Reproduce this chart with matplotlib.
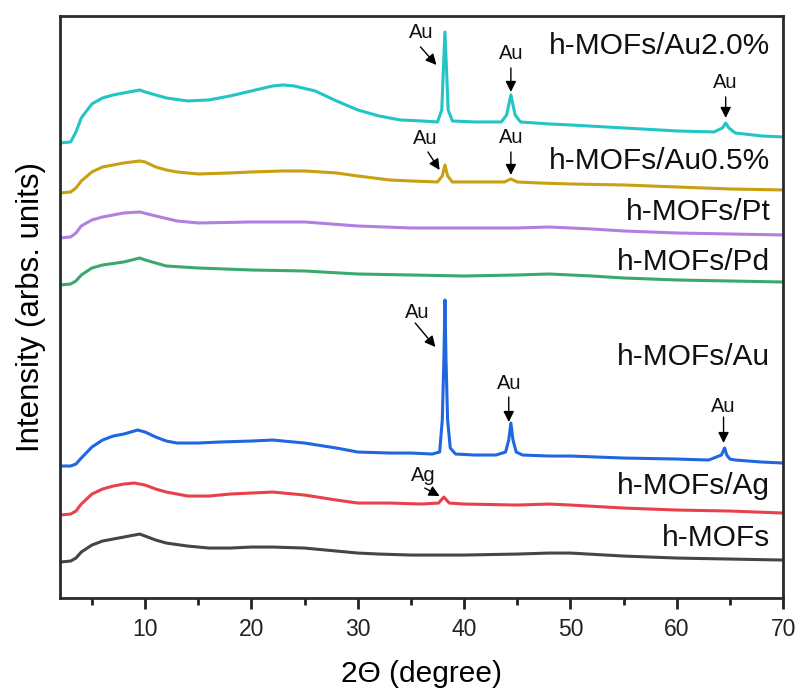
import matplotlib
matplotlib.use("Agg")
import matplotlib.pyplot as plt
from matplotlib.ticker import MultipleLocator, NullLocator

plt.rcParams['font.family'] = ['Liberation Sans', 'DejaVu Sans']

# ---- data (intensity in arbitrary units, vertically offset) ----
x_mof = [2, 3, 3.5, 4, 5, 6, 7, 8, 9, 9.5, 10, 11, 12, 14, 16, 18, 20, 22, 25, 28, 30, 32, 35, 40, 45, 48, 50, 55, 60, 65, 70]
y_mof = [36, 37, 40, 46, 53, 57, 59, 61, 63, 64, 62, 58, 55, 52, 50, 50, 51, 51, 50, 47, 45, 44, 43, 43, 44, 45, 45, 42, 40, 39, 38]

x_ag = [2, 3, 3.5, 4, 5, 6, 7, 8, 9, 10, 11, 12, 14, 16, 18, 20, 22, 25, 28, 30, 33, 36, 37.6, 38.1, 38.6, 40, 45, 48, 50, 55, 60, 65, 70]
y_ag = [83, 84, 87, 94, 104, 109, 112, 114, 115, 113, 109, 106, 102, 102, 104, 105, 106, 103, 98, 95, 95, 94, 95, 101, 95, 94, 93, 94, 93, 90, 88, 87, 85]

x_au = [2, 3, 3.5, 4, 5, 6, 7, 8, 9.3, 10, 11, 12, 13, 15, 17, 20, 22, 25, 28, 30, 33, 35, 37, 37.7, 37.95, 38.1, 38.2, 38.3, 38.45, 38.7, 39.2,
        41, 43, 43.9, 44.2, 44.4, 44.6, 44.9, 45.5, 48, 50, 55, 60, 63, 64.2, 64.5, 64.7, 65.0, 65.5, 68, 70]
y_au = [132, 132, 134, 140, 151, 158, 162, 164, 168, 166, 161, 157, 155, 155, 156, 157, 158, 155, 150, 146, 145, 145, 144, 146, 178, 238, 298, 238, 178, 150, 144,
        143, 143, 146, 158, 175, 158, 146, 143, 142, 142, 140, 139, 138, 143, 150, 143, 139, 138, 136, 135]

x_pd = [2, 3, 3.5, 4, 5, 6, 8, 9.5, 10, 12, 15, 20, 25, 30, 35, 40, 45, 48, 52, 55, 60, 65, 70]
y_pd = [313, 314, 317, 323, 330, 333, 336, 340, 338, 332, 330, 328, 327, 324, 323, 322, 323, 324, 322, 320, 318, 317, 316]

x_pt = [2, 3, 3.5, 4, 5, 6, 8, 9.5, 11, 13, 15, 20, 25, 30, 35, 40, 45, 48, 52, 55, 60, 65, 70]
y_pt = [360, 361, 365, 372, 378, 381, 385, 386, 382, 377, 375, 376, 376, 372, 370, 370, 370, 371, 369, 367, 365, 364, 363]

x_au05 = [2, 3, 3.5, 4, 5, 6, 8, 9.5, 10, 11, 12, 13, 15, 18, 20, 23, 25, 28, 30, 33, 35, 37.5, 37.95, 38.2, 38.45, 38.9,
          41, 43.8, 44.4, 45, 47, 50, 55, 60, 65, 70]
y_au05 = [405, 406, 410, 417, 426, 431, 435, 437, 436, 431, 428, 426, 424, 425, 426, 427, 427, 425, 422, 418, 417, 416, 422, 433, 422, 416,
          416, 416, 419, 416, 415, 414, 413, 411, 409, 408]

x_au20 = [2, 3, 3.5, 4, 5, 6, 7, 8, 9.5, 10, 11, 12, 14, 16, 18, 20, 22, 23, 24, 26, 28, 30, 32, 34, 36, 37.5, 37.9, 38.05, 38.2, 38.35, 38.5, 38.9,
          41, 43.5, 44.0, 44.4, 44.8, 45.3, 48, 50, 55, 60, 63.5, 64.3, 64.6, 64.9, 65.5, 68, 70]
y_au20 = [455, 456, 466, 480, 494, 500, 503, 505, 508, 506, 503, 500, 497, 498, 502, 507, 512, 513, 512, 507, 497, 488, 482, 478, 477, 476, 488, 528, 566, 528, 488, 477,
          476, 476, 483, 503, 483, 476, 474, 473, 470, 467, 466, 470, 475, 470, 465, 462, 461]

series_x = [x_mof, x_ag, x_au, x_pd, x_pt, x_au05, x_au20]
series_y = [y_mof, y_ag, y_au, y_pd, y_pt, y_au05, y_au20]
labels = ['h-MOFs', 'h-MOFs/Ag', 'h-MOFs/Au', 'h-MOFs/Pd', 'h-MOFs/Pt', 'h-MOFs/Au0.5%', 'h-MOFs/Au2.0%']
label_y = [60, 112, 241, 336, 386, 437, 552]
colors = ['#454545', '#e8414b', '#1f66e0', '#3aa96f', '#b07fe0', '#c9a011', '#22c4c4']

# peak annotations: (text, text position, arrow start, arrow end)
peak_text = ['Au', 'Au', 'Au', 'Au', 'Au', 'Au', 'Au', 'Au', 'Ag']
peak_tx = [36.0, 44.4, 64.6, 36.3, 44.4, 35.6, 44.2, 64.4, 36.2]
peak_ty = [565, 544, 515, 459, 460, 286, 215, 192, 123]
peak_ax0 = [35.9, 44.4, 64.6, 36.6, 44.4, 35.4, 44.2, 64.4, 36.3]
peak_ay0 = [551, 530, 501, 446, 446, 275, 201, 181, 110]
peak_ax1 = [37.4, 44.4, 64.6, 37.7, 44.4, 37.3, 44.2, 64.4, 37.7]
peak_ay1 = [533, 506, 480, 428, 423, 251, 176, 155, 102]

fig = plt.figure(figsize=(7.99, 6.93), dpi=100)
ax = fig.add_axes([0.0751, 0.137, 0.905, 0.840])

for xs, ys, c in zip(series_x, series_y, colors):
    ax.plot(xs, ys, color=c, lw=2.2, solid_joinstyle='round')

for lab, ly in zip(labels, label_y):
    ax.text(68.8, ly, lab, ha='right', va='center', fontsize=21.5, color='#111111')

for t, tx, ty, x0, y0, x1, y1 in zip(peak_text, peak_tx, peak_ty, peak_ax0, peak_ay0, peak_ax1, peak_ay1):
    ax.text(tx, ty, t, ha='center', va='center', fontsize=14.5, color='#111111')
    ax.annotate('', xy=(x1, y1), xytext=(x0, y0),
                arrowprops=dict(arrowstyle='-|>', color='black', lw=1.0, mutation_scale=16,
                                shrinkA=0, shrinkB=0))

ax.set_xlim(2, 70)
ax.set_ylim(0, 582)
ax.xaxis.set_major_locator(MultipleLocator(10))
ax.xaxis.set_minor_locator(MultipleLocator(5))
ax.yaxis.set_major_locator(NullLocator())
ax.yaxis.set_minor_locator(NullLocator())
ax.tick_params(axis='x', which='major', direction='out', length=8, width=2, labelsize=16.5, pad=6, colors='#222222')
ax.tick_params(axis='x', which='minor', direction='out', length=5, width=2, colors='#222222')
for sp in ax.spines.values():
    sp.set_linewidth(2)
    sp.set_color('#2a2a2a')

ax.set_xlabel('2Θ (degree)', fontsize=21.5, labelpad=14)
ax.set_ylabel('Intensity (arbs. units)', fontsize=22.5, labelpad=10)

fig.savefig('out.png', dpi=100)
